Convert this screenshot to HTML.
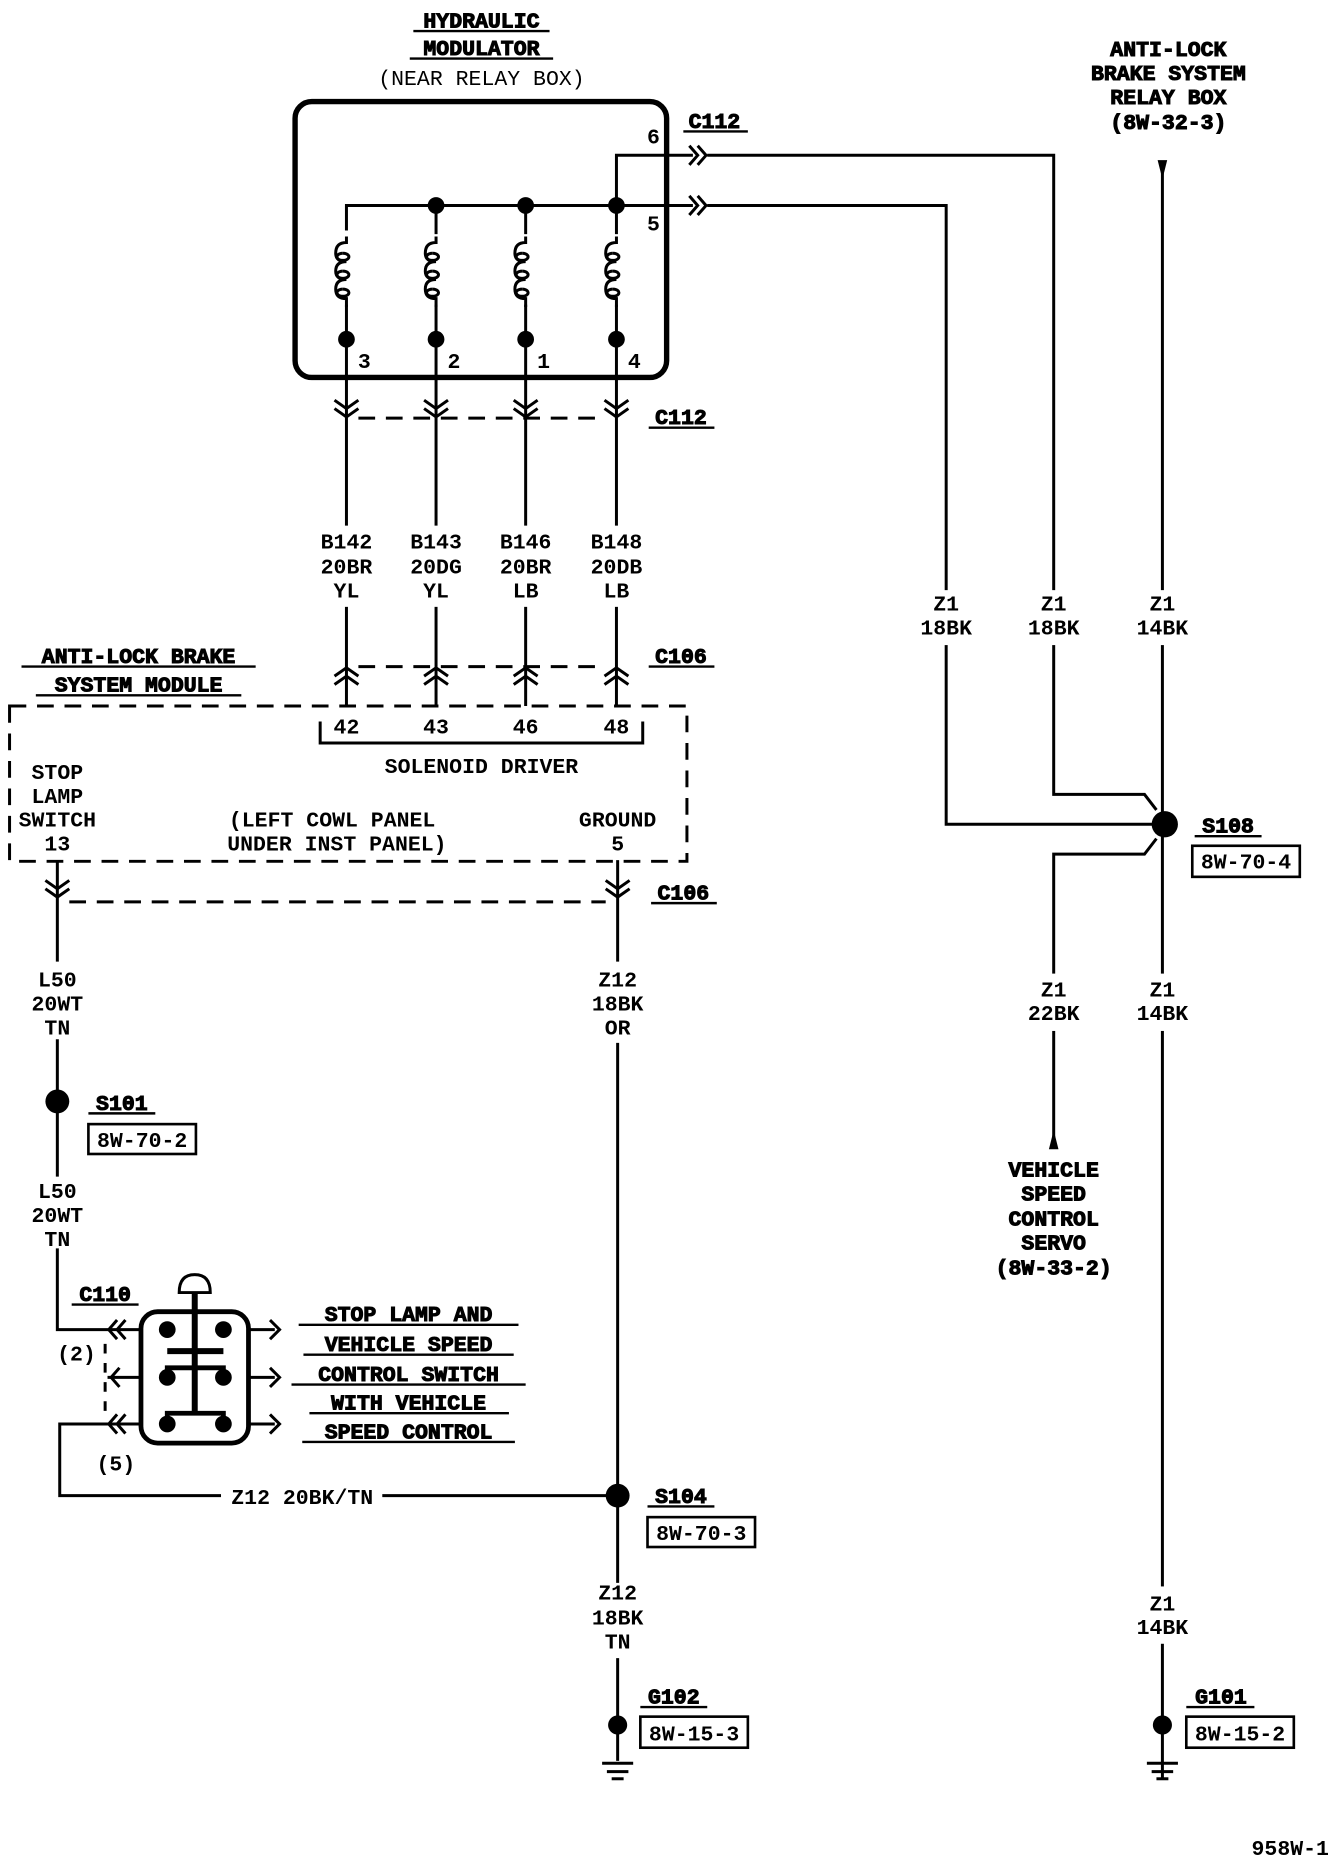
<!DOCTYPE html>
<html><head><meta charset="utf-8"><style>
html,body{margin:0;padding:0;background:#fff;}
svg{display:block;}
text{font-family:"Liberation Mono",monospace;font-size:18px;font-weight:bold;fill:#000;text-anchor:middle;}
.t{stroke:#000;stroke-width:0.9;}
</style></head><body>
<svg width="1344" height="1860" viewBox="0 0 1125 1557" preserveAspectRatio="none" xmlns="http://www.w3.org/2000/svg">
<defs>
<path id="cd" d="M-10,-10 L0,-3 L10,-10 M-10,-3 L0,4 L10,-3" fill="none" stroke="#000" stroke-width="2.5"/>
<path id="cu" d="M-10,10 L0,3 L10,10 M-10,3 L0,-4 L10,3" fill="none" stroke="#000" stroke-width="2.5"/>
<path id="cr" d="M-9,-8 L-2,0 L-9,8 M-2,-8 L5,0 L-2,8" fill="none" stroke="#000" stroke-width="2.5"/>
<path id="cl" d="M9,-8 L2,0 L9,8 M2,-8 L-5,0 L2,8" fill="none" stroke="#000" stroke-width="2.5"/>
<path id="ar" d="M-4,-8 L4,0 L-4,8" fill="none" stroke="#000" stroke-width="2.5"/>
<path id="coil" d="M0,-27 L0,-22 Q-9,-22 -9,-13 Q-9,-6 0,-6 Q-9,-6 -9,2 Q-9,9 0,9 Q-9,9 -9,17 Q-9,25 0,25 L0,32 M-3,-13 a5,3 0 1 0 0.1,0 M-3,2 a5,3 0 1 0 0.1,0 M-3,17 a5,3 0 1 0 0.1,0" fill="none" stroke="#000" stroke-width="2.5"/>
<g id="gnd" stroke="#000" stroke-width="2.5"><line x1="-13" y1="0" x2="13" y2="0"/><line x1="-9" y1="7" x2="9" y2="7"/><line x1="-5" y1="13" x2="5" y2="13"/></g>
</defs>
<g stroke="#000" stroke-width="2.5" fill="none">
<rect x="247" y="85" width="311" height="231" rx="14" stroke-width="4.5"/>
<polyline points="290,193 290,172 516,172"/>
<line x1="365" y1="172" x2="365" y2="196"/><line x1="440" y1="172" x2="440" y2="196"/><line x1="516" y1="172" x2="516" y2="196"/>
<polyline points="516,172 516,130 580,130"/>
<line x1="516" y1="172" x2="580" y2="172"/>
<polyline points="592,130 882,130 882,665 958,665 968,678"/>
<polyline points="592,172 792,172 792,690 965,690"/>
<polyline points="968,702 958,715 882,715 882,955"/>
<line x1="973" y1="140" x2="973" y2="1490"/>
<line x1="290" y1="255" x2="290" y2="591"/><line x1="365" y1="255" x2="365" y2="591"/>
<line x1="440" y1="255" x2="440" y2="591"/><line x1="516" y1="255" x2="516" y2="591"/>
<line x1="300" y1="350" x2="506" y2="350" stroke-dasharray="14,9"/>
<line x1="300" y1="558" x2="506" y2="558" stroke-dasharray="14,9"/>
<rect x="8" y="591" width="567" height="130" stroke-dasharray="14,9"/>
<polyline points="268,604 268,622 538,622 538,604"/>
<line x1="48" y1="720" x2="48" y2="805"/><line x1="517" y1="720" x2="517" y2="805"/>
<line x1="58" y1="755" x2="507" y2="755" stroke-dasharray="14,9"/>
<line x1="48" y1="870" x2="48" y2="985"/>
<polyline points="48,1045 48,1113 90,1113"/>
<line x1="517" y1="873" x2="517" y2="1325"/>
<line x1="517" y1="1388" x2="517" y2="1474"/>
<rect x="118" y="1098" width="90" height="110" rx="14" stroke-width="4"/>
<line x1="90" y1="1113" x2="118" y2="1113"/><line x1="90" y1="1153" x2="118" y2="1153"/><line x1="90" y1="1192" x2="118" y2="1192"/>
<line x1="208" y1="1113" x2="230" y2="1113"/><line x1="208" y1="1153" x2="230" y2="1153"/><line x1="208" y1="1192" x2="230" y2="1192"/>
<line x1="88" y1="1125" x2="88" y2="1185" stroke-dasharray="8,8"/>
<polyline points="90,1192 50,1192 50,1252 185,1252"/>
<line x1="320" y1="1252" x2="517" y2="1252"/>
<line x1="163" y1="1082" x2="163" y2="1182" stroke-width="5"/>
<line x1="140" y1="1131" x2="187" y2="1131" stroke-width="5"/>
<polyline points="140,1153 140,1145 187,1145 187,1153" stroke-width="4"/>
<polyline points="140,1192 140,1183 187,1183 187,1192" stroke-width="4"/>
</g>
<g fill="#fff">
<rect x="265" y="440" width="275" height="68"/>
<rect x="765" y="494" width="230" height="46"/>
<rect x="855" y="815" width="140" height="48"/>
<rect x="950" y="1328" width="46" height="48"/>
</g>
<path d="M150,1082 Q150,1067 163,1067 Q176,1067 176,1082 Z" fill="#fff" stroke="#000" stroke-width="2.5"/>
<g fill="#000">
<circle cx="140" cy="1113" r="7"/><circle cx="187" cy="1113" r="7"/>
<circle cx="140" cy="1153" r="7"/><circle cx="187" cy="1153" r="7"/>
<circle cx="140" cy="1192" r="7"/><circle cx="187" cy="1192" r="7"/>
<circle cx="365" cy="172" r="7"/><circle cx="440" cy="172" r="7"/><circle cx="516" cy="172" r="7"/>
<circle cx="290" cy="284" r="7"/><circle cx="365" cy="284" r="7"/><circle cx="440" cy="284" r="7"/><circle cx="516" cy="284" r="7"/>
<circle cx="975" cy="690" r="11"/>
<circle cx="48" cy="922" r="10"/>
<circle cx="517" cy="1252" r="10"/>
<circle cx="517" cy="1444" r="8"/><circle cx="973" cy="1444" r="8"/>
<path d="M969,134 L977,134 L973,150 Z"/>
<path d="M878,962 L886,962 L882,946 Z"/>
</g>
<rect x="278" y="194" width="20" height="60" fill="#fff"/>
<use href="#coil" x="290" y="225"/><use href="#coil" x="365" y="225"/><use href="#coil" x="440" y="225"/><use href="#coil" x="516" y="225"/>
<use href="#cd" x="290" y="345"/><use href="#cd" x="365" y="345"/><use href="#cd" x="440" y="345"/><use href="#cd" x="516" y="345"/>
<use href="#cu" x="290" y="563"/><use href="#cu" x="365" y="563"/><use href="#cu" x="440" y="563"/><use href="#cu" x="516" y="563"/>
<use href="#cd" x="48" y="747"/><use href="#cd" x="517" y="747"/>
<use href="#cr" x="586" y="130"/><use href="#cr" x="586" y="172"/>
<use href="#cl" x="96" y="1113"/><use href="#cl" x="96" y="1192"/>
<path d="M100,1145 L93,1153 L100,1161" fill="none" stroke="#000" stroke-width="2.5"/>
<use href="#ar" x="230" y="1113"/><use href="#ar" x="230" y="1153"/><use href="#ar" x="230" y="1192"/>
<use href="#gnd" x="517" y="1476"/><use href="#gnd" x="973" y="1476"/>
<g fill="none" stroke="#000" stroke-width="2.2">
<rect x="74" y="941" width="90" height="25"/>
<rect x="998" y="708" width="90" height="26"/>
<rect x="542" y="1270" width="90" height="25"/>
<rect x="536" y="1437" width="90" height="26"/>
<rect x="993" y="1437" width="90" height="26"/>
</g>
<g stroke="#000" stroke-width="2">
<line x1="346" y1="26" x2="460" y2="26"/><line x1="343" y1="49" x2="463" y2="49"/>
<line x1="572" y1="110" x2="626" y2="110"/><line x1="543" y1="358" x2="598" y2="358"/>
<line x1="18" y1="558" x2="214" y2="558"/><line x1="30" y1="582" x2="202" y2="582"/>
<line x1="543" y1="558" x2="598" y2="558"/><line x1="545" y1="756" x2="600" y2="756"/>
<line x1="74" y1="932" x2="130" y2="932"/><line x1="60" y1="1092" x2="116" y2="1092"/>
<line x1="1000" y1="700" x2="1056" y2="700"/><line x1="542" y1="1261" x2="598" y2="1261"/>
<line x1="536" y1="1429" x2="592" y2="1429"/><line x1="993" y1="1429" x2="1050" y2="1429"/>
<line x1="250" y1="1109" x2="434" y2="1109"/><line x1="254" y1="1134" x2="430" y2="1134"/>
<line x1="244" y1="1159" x2="440" y2="1159"/><line x1="259" y1="1183" x2="426" y2="1183"/>
<line x1="253" y1="1207" x2="431" y2="1207"/>
</g>
<g class="t">
<text x="403" y="23">HYDRAULIC</text><text x="403" y="46">MODULATOR</text>
<text x="978" y="47">ANTI-LOCK</text><text x="978" y="67">BRAKE SYSTEM</text><text x="978" y="87">RELAY BOX</text><text x="978" y="108">(8W-32-3)</text>
<text x="598" y="107">C112</text><text x="570" y="355">C112</text>
<text x="116" y="555">ANTI-LOCK BRAKE</text><text x="116" y="579">SYSTEM MODULE</text>
<text x="570" y="555">C106</text><text x="572" y="753">C106</text>
<text x="102" y="929">S101</text><text x="88" y="1089">C110</text>
<text x="1028" y="697">S108</text><text x="570" y="1258">S104</text>
<text x="564" y="1426">G102</text><text x="1022" y="1426">G101</text>
<text x="342" y="1106">STOP LAMP AND</text><text x="342" y="1131">VEHICLE SPEED</text>
<text x="342" y="1156">CONTROL SWITCH</text><text x="342" y="1180">WITH VEHICLE</text><text x="342" y="1204">SPEED CONTROL</text>
<text x="882" y="985">VEHICLE</text><text x="882" y="1005">SPEED</text><text x="882" y="1026">CONTROL</text><text x="882" y="1046">SERVO</text><text x="882" y="1067">(8W-33-2)</text>
</g>
<text x="403" y="71" style="font-weight:normal">(NEAR RELAY BOX)</text>
<text x="547" y="120">6</text><text x="547" y="193">5</text>
<text x="305" y="308">3</text><text x="380" y="308">2</text><text x="455" y="308">1</text><text x="531" y="308">4</text>
<text x="290" y="459">B142</text><text x="290" y="480">20BR</text><text x="290" y="500">YL</text>
<text x="365" y="459">B143</text><text x="365" y="480">20DG</text><text x="365" y="500">YL</text>
<text x="440" y="459">B146</text><text x="440" y="480">20BR</text><text x="440" y="500">LB</text>
<text x="516" y="459">B148</text><text x="516" y="480">20DB</text><text x="516" y="500">LB</text>
<text x="290" y="614">42</text><text x="365" y="614">43</text><text x="440" y="614">46</text><text x="516" y="614">48</text>
<text x="403" y="647">SOLENOID DRIVER</text>
<text x="48" y="652">STOP</text><text x="48" y="672">LAMP</text><text x="48" y="692">SWITCH</text><text x="48" y="712">13</text>
<text x="278" y="692">(LEFT COWL PANEL</text><text x="282" y="712">UNDER INST PANEL)</text>
<text x="517" y="692">GROUND</text><text x="517" y="712">5</text>
<text x="48" y="826">L50</text><text x="48" y="846">20WT</text><text x="48" y="866">TN</text>
<text x="48" y="1003">L50</text><text x="48" y="1023">20WT</text><text x="48" y="1043">TN</text>
<text x="517" y="826">Z12</text><text x="517" y="846">18BK</text><text x="517" y="866">OR</text>
<text x="517" y="1339">Z12</text><text x="517" y="1360">18BK</text><text x="517" y="1380">TN</text>
<text x="119" y="960">8W-70-2</text><text x="1043" y="727">8W-70-4</text><text x="587" y="1289">8W-70-3</text>
<text x="581" y="1457">8W-15-3</text><text x="1038" y="1457">8W-15-2</text>
<text x="64" y="1139">(2)</text><text x="97" y="1231">(5)</text>
<text x="253" y="1259">Z12 20BK/TN</text>
<text x="792" y="511">Z1</text><text x="792" y="531">18BK</text>
<text x="882" y="511">Z1</text><text x="882" y="531">18BK</text>
<text x="973" y="511">Z1</text><text x="973" y="531">14BK</text>
<text x="882" y="834">Z1</text><text x="882" y="854">22BK</text>
<text x="973" y="834">Z1</text><text x="973" y="854">14BK</text>
<text x="973" y="1348">Z1</text><text x="973" y="1368">14BK</text>
<text x="1080" y="1553">958W-1</text>
</svg>
</body></html>
